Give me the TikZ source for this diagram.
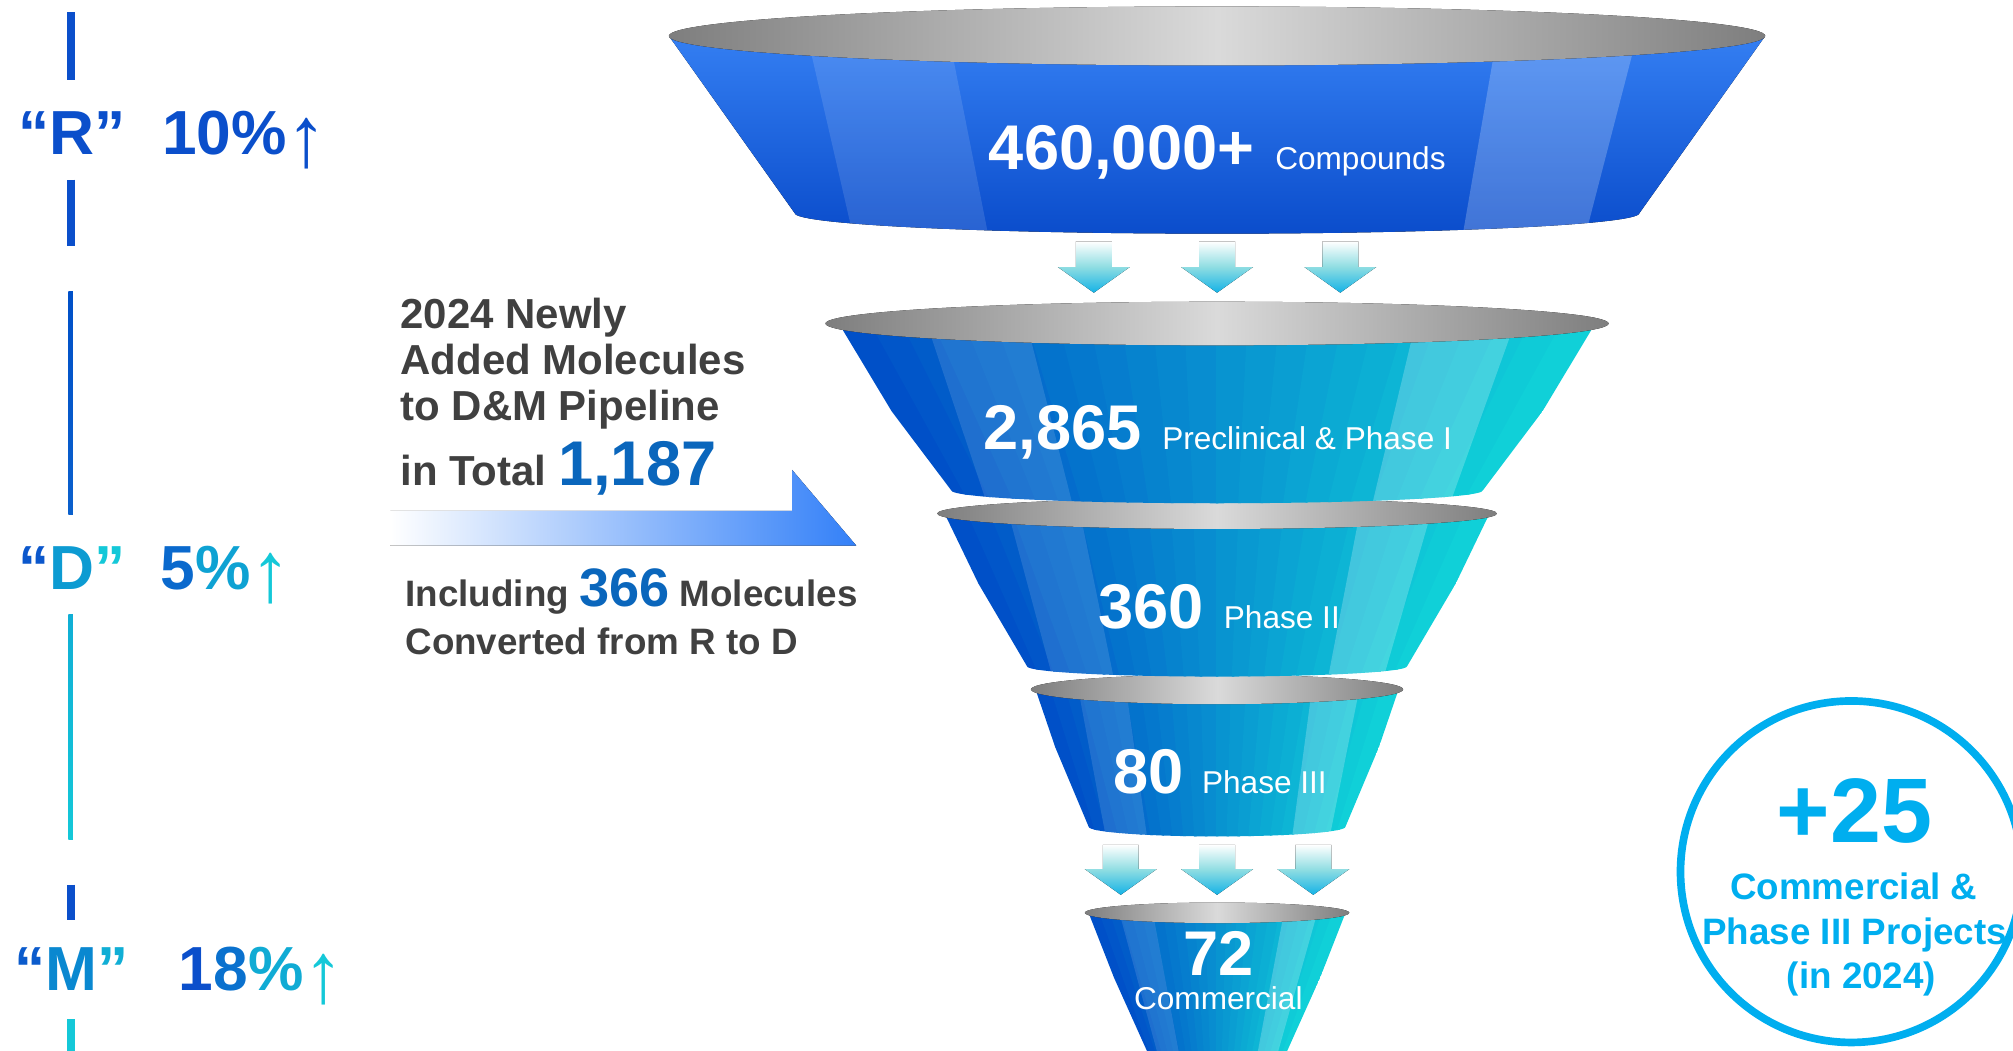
\documentclass[tikz,border=0pt]{standalone}
\usepackage{fontspec}
\usepackage{graphicx}
\setmainfont{Liberation Sans}

\definecolor{rdblue}{HTML}{0B4FCB}
\definecolor{rdmid}{HTML}{0A88D0}
\definecolor{rdcyan}{HTML}{14C8D8}
\definecolor{stagedark}{HTML}{0050C8}
\definecolor{stagecyan}{HTML}{10D0D8}
\definecolor{topblue}{HTML}{3A86F8}
\definecolor{topdeep}{HTML}{0A4CCB}
\definecolor{rimdark}{HTML}{7E7E7E}
\definecolor{rimlight}{HTML}{DADADA}
\definecolor{dropteal}{HTML}{8EDDE2}
\definecolor{dropcyan}{HTML}{14B2E6}
\definecolor{textgray}{HTML}{404040}
\definecolor{numblue}{HTML}{0A66BC}
\definecolor{ringblue}{HTML}{00AEEF}
\definecolor{flowblue}{HTML}{3380F8}

\tikzset{
  rim/.style={left color=rimdark, right color=rimdark, middle color=rimlight},
  sheen/.style={fill=white, fill opacity=.12},
  drop/.style={top color=white, bottom color=dropcyan, middle color=dropteal},
  axisline/.style={line width=3.6},
  rdlabel/.style={font=\bfseries\fontsize{27.6}{30}\selectfont},
  stagenum/.style={text=white, font=\bfseries\fontsize{28}{30}\selectfont},
  stagelabel/.style={text=white, font=\fontsize{14}{16}\selectfont},
  newtext/.style={text=textgray, font=\bfseries\fontsize{18.6}{20}\selectfont},
  convtext/.style={text=textgray, font=\bfseries\fontsize{16.3}{18}\selectfont},
  ringtext/.style={text=ringblue, anchor=base, font=\bfseries\fontsize{16.3}{18}\selectfont}
}

% thin tall up arrow after the percentages
\newcommand{\uparr}{{\mdseries\raisebox{-5.5pt}{\scalebox{1.3}[1.38]{↑}}}}

% one funnel stage: rim y, rim rx, rim ry, base y, base rx, base ry, c = cone shading / v = vertical
\newcommand{\funnelstage}[7]{%
  \begin{scope}
    \clip (948-#2,#1) -- (948-#5,#4) arc[start angle=180, end angle=0, x radius=#5, y radius=#6] -- (948+#2,#1) -- cycle;
    \ifx#7c
      \foreach \i in {0,...,23} {
        \pgfmathtruncatemacro\mix{100-100*\i/23}
        \fill[fill=stagedark!\mix!stagecyan] ({948-#2+2*#2*\i/24-1},#1-#3-2) -- ({948-#2+2*#2*(\i+1)/24+1},#1-#3-2)
          -- ({948-#5+2*#5*(\i+1)/24+1},#4+#6+4) -- ({948-#5+2*#5*\i/24-1},#4+#6+4) -- cycle;
      }
    \else
      \fill[top color=topblue, bottom color=topdeep] (948-#2,#1-#3) rectangle (948+#2,#4+#6+2);
    \fi
    \fill[sheen] ({948-0.76*#2},#1-#3) -- ({948-0.50*#2},#1-#3) -- ({948-0.54*#5},#4+#6+4) -- ({948-0.86*#5},#4+#6+4) -- cycle;
    \fill[sheen, fill opacity=.22] ({948+0.52*#2},#1-#3) -- ({948+0.78*#2},#1-#3) -- ({948+0.87*#5},#4+#6+4) -- ({948+0.58*#5},#4+#6+4) -- cycle;
  \end{scope}
  \fill[rim] (948,#1) ellipse [x radius=#2, y radius=#3];
}

% down arrow between stages: centre x, top, head start, tip
\newcommand{\droparrow}[4]{%
  \fill[drop] (#1-14,#2) -- (#1+14,#2) -- (#1+14,#3) -- (#1+28,#3) -- (#1,#4) -- (#1-28,#3) -- (#1-14,#3) -- cycle;
}

\begin{document}
\begin{tikzpicture}[x=0.2mm, y=-0.2mm, every node/.style={inner sep=0pt, anchor=base west}]
  \useasboundingbox (0,0) rectangle (1568,818);
  \clip (0,0) rectangle (1568,818);

  % R / D / M axis
  \draw[axisline, rdblue] (55,9.5) -- (55,62.5);
  \draw[axisline, rdblue] (55,140) -- (55,192);
  \shade[top color=stagedark, bottom color=rdblue!70!rdmid] (53.2,227) rectangle (56.8,401);
  \shade[top color=rdmid!40!rdcyan, bottom color=rdcyan] (53.2,479) rectangle (56.8,654);
  \draw[axisline, rdblue] (55,689) -- (55,717);
  \draw[axisline, rdcyan] (55,794) -- (55,820);

  \node[rdlabel, text=rdblue] (rlab) at (14,120) {“R”};
  \node[rdlabel, text=rdblue] (rpct) at (126,120) {10\%\uparr};
  \node[rdlabel] (dlab) at (14,459) {{\color{rdblue!85!rdmid}“}{\color{rdmid!70!rdcyan}D}{\color{rdcyan}”}};
  \node[rdlabel] (dpct) at (124.6,459) {{\color{rdblue!55!rdmid}5}{\color{rdmid!60!rdcyan}\%}{\color{rdcyan}\uparr}};
  \node[rdlabel] (mlab) at (11,771.6) {{\color{rdblue!80!rdmid}“}{\color{rdmid}M}{\color{rdmid!40!rdcyan}”}};
  \node[rdlabel] (mpct) at (139,771.6) {{\color{rdblue}1}{\color{rdblue!40!rdmid}8}{\color{rdmid!45!rdcyan}\%}{\color{rdcyan}\uparr}};

  % funnel, bottom stage first
  \funnelstage{711}{103}{8}{840}{45}{5}{c}
  \funnelstage{537}{145}{11.5}{644}{100}{7.5}{c}
  \funnelstage{400}{218}{12}{519}{148}{8}{c}
  \funnelstage{252}{305}{17}{382}{207}{10}{c}
  \funnelstage{28}{427}{23}{166}{329}{16}{v}

  % arrows between stages
  \droparrow{852}{188}{208}{228}
  \droparrow{948}{188}{208}{228}
  \droparrow{1044}{188}{208}{228}
  \droparrow{873}{658}{677}{697}
  \droparrow{948}{658}{677}{697}
  \droparrow{1023}{658}{677}{697}

  % stage figures
  \node[stagenum] (cmpnum) at (770,132) {460,000+};
  \node[stagelabel] (cmplab) at (993,132) {Compounds};
  \node[stagenum] (prenum) at (766,350) {2,865};
  \node[stagelabel] (prelab) at (905,350) {Preclinical \& Phase I};
  \node[stagenum] (p2num) at (855,489.5) {360};
  \node[stagelabel] (p2lab) at (953,489.5) {Phase II};
  \node[stagenum] (p3num) at (867,618) {80};
  \node[stagelabel] (p3lab) at (936,618) {Phase III};
  \node[stagenum, anchor=base] (comnum) at (949,760) {72};
  \node[stagelabel, anchor=base] (comlab) at (949,786) {Commercial};

  % newly added molecules
  \fill[left color=white, right color=flowblue] (304,398) -- (617,398) -- (617,366) -- (667,425) -- (304,425) -- cycle;
  \node[newtext] (new1) at (311.6,256) {2024 Newly};
  \node[newtext] (new2) at (311.6,292) {Added Molecules};
  \node[newtext] (new3) at (311.6,327.7) {to D\&M Pipeline};
  \node[newtext] (new4) at (311.6,377.8) {in Total {\color{numblue}\fontsize{28}{30}\selectfont 1,187}};
  \node[convtext] (conv1) at (315.5,472.6) {Including {\color{numblue}\fontsize{24}{26}\selectfont 366} Molecules};
  \node[convtext] (conv2) at (315.5,510) {Converted from R to D};

  % projects ring
  \draw[ringblue, line width=3.4pt] (1442,679) circle [radius=133];
  \node[ringtext, font=\bfseries\fontsize{40.6}{44}\selectfont] (ringnum) at (1444.5,656) {+25};
  \node[ringtext] (ring1) at (1444,701) {Commercial \&};
  \node[ringtext] (ring2) at (1444.7,735.5) {Phase III Projects};
  \node[ringtext] (ring3) at (1450,770) {(in 2024)};
\end{tikzpicture}
\end{document}
